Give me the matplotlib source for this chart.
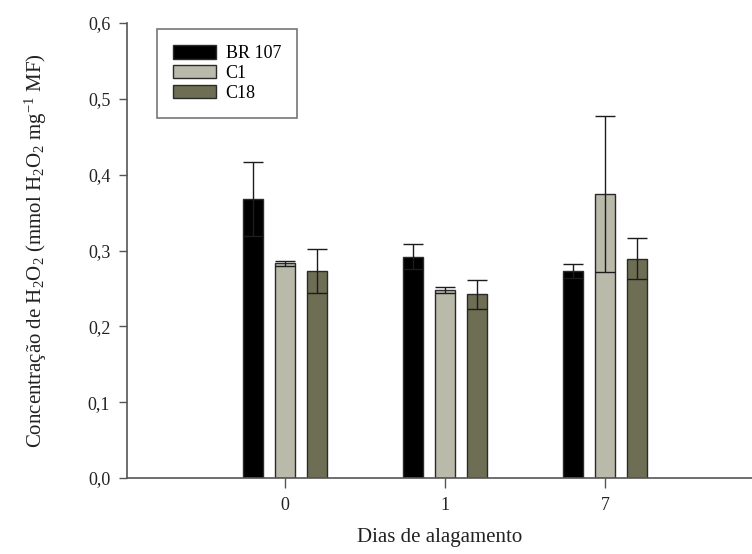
import numpy as np
import matplotlib
matplotlib.use("Agg")
import matplotlib.pyplot as plt

plt.rcParams["font.family"] = ["Liberation Serif", "DejaVu Serif"]
plt.rcParams["mathtext.default"] = "regular"

days = ["0", "1", "7"]
genotypes = ["BR 107", "C1", "C18"]
means = {
    "BR 107": [0.368, 0.292, 0.273],
    "C1": [0.283, 0.248, 0.374],
    "C18": [0.273, 0.242, 0.289],
}
errors = {
    "BR 107": [0.049, 0.017, 0.009],
    "C1": [0.003, 0.004, 0.103],
    "C18": [0.029, 0.019, 0.027],
}
colors = {"BR 107": "#000000", "C1": "#b9baa9", "C18": "#6e6e54"}

fig = plt.figure(figsize=(7.52, 5.54), dpi=100)
ax = fig.add_axes([127 / 752, 76 / 554, 625 / 752, 455 / 554])

x = np.arange(len(days))
width = 0.125
offsets = [-0.2, 0.0, 0.2]

for g, off in zip(genotypes, offsets):
    ax.bar(x + off, means[g], width, color=colors[g], edgecolor="#2a2a2a",
           linewidth=1.0, label=g, zorder=2)
    ax.errorbar(x + off, means[g], yerr=errors[g], fmt="none", ecolor="#1c1c1c",
                elinewidth=1.0, capsize=7, capthick=1.0, zorder=3)

ax.set_xlim(-0.9875, 2.919)
ax.set_ylim(0, 0.6)
ax.set_xticks(x)
ax.set_xticklabels(days)
yt = np.arange(0, 0.61, 0.1)
ax.set_yticks(yt)
ax.set_yticklabels([f"{v:.1f}".replace(".", ",") for v in yt])

for s in ["top", "right"]:
    ax.spines[s].set_visible(False)
for s in ["left", "bottom"]:
    ax.spines[s].set_color("#555555")
    ax.spines[s].set_linewidth(1.2)
ax.tick_params(axis="both", direction="out", colors="#555555", labelcolor="#222222",
               labelsize=13, width=1.0)
ax.tick_params(axis="y", length=6, pad=6)
ax.tick_params(axis="x", length=7, pad=7)

ax.set_xlabel("Dias de alagamento", fontsize=15, labelpad=10, color="#222222")
ax.set_ylabel("Concentração de H$_2$O$_2$ (mmol H$_2$O$_2$ mg$^{-1}$ MF)",
              fontsize=15, labelpad=28, color="#222222")

leg = ax.legend(loc="upper left", bbox_to_anchor=(157 / 752, 1 - 29 / 554),
                bbox_transform=fig.transFigure, fontsize=13, frameon=True,
                fancybox=False, borderaxespad=0, borderpad=0.9,
                handlelength=2.35, handleheight=0.75, handletextpad=0.55,
                labelspacing=0.15)
leg.get_frame().set_edgecolor("#555555")
leg.get_frame().set_linewidth(1.2)

fig.savefig("out.png", dpi=100)
